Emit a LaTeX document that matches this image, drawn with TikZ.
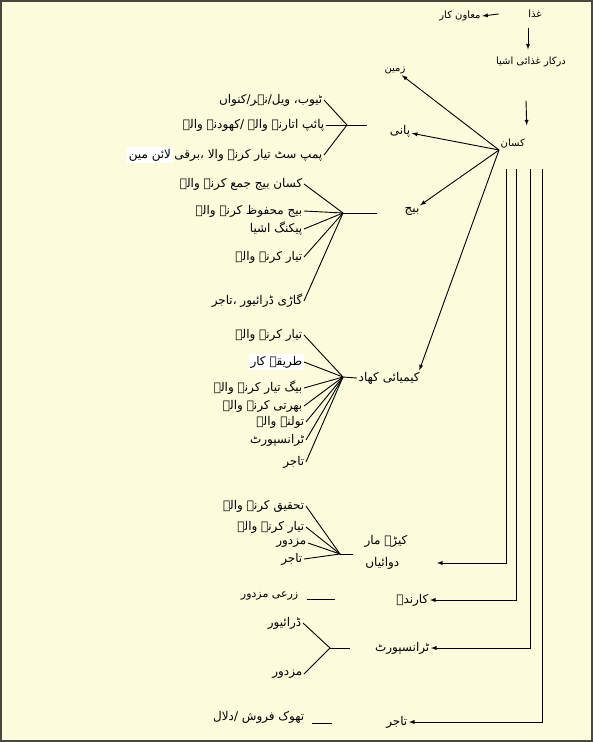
\documentclass[tikz,border=0pt]{standalone}
\usepackage{fontspec}
\usetikzlibrary{positioning,arrows}
\newfontfamily\urdufont[Script=Arabic]{DejaVu Sans}
\TeXXeTstate=1
\newcommand{\urd}[1]{\urdufont\beginR #1\endR}
\definecolor{paper}{RGB}{252,252,220}
\definecolor{framegray}{RGB}{72,72,62}

\begin{document}
\begin{tikzpicture}[x=1pt,y=-1pt]
      \tikzstyle{lbl}=[inner sep=1.5pt, font=\fontsize{12}{14}\selectfont];
      \tikzstyle{toplbl}=[inner sep=1.5pt, font=\fontsize{10}{12}\selectfont];
      \tikzstyle{lft}=[lbl, anchor=east];
      \tikzstyle{ln}=[line width=0.9pt];
      \tikzstyle{arr}=[ln, -latex];

      \useasboundingbox (0,0) rectangle (593,742);
      \draw[line width=2pt, draw=framegray, fill=paper] (1,1) rectangle (592,741);

      % top of the chart
      \node (ghiza) at (535,14)[toplbl]{\urd{غذا}};
      \node (muawin) at (460,16)[toplbl]{\urd{معاون کار}};
      \node (darkar) at (531,62)[toplbl]{\urd{درکار غذائی اشیا}};
      \node (kisan) at (499,150)[toplbl, anchor=south west]{\urd{کسان}};
      \coordinate (hub) at (kisan.south west);

      \draw [arr] ([xshift=-28pt]ghiza.west) -- (muawin.east);
      \draw [arr] ([xshift=-7pt,yshift=-8pt]ghiza.south) -- ([xshift=-3pt,yshift=6pt]darkar.north);
      \draw [arr] ([xshift=-5pt,yshift=-32pt]darkar.south) -- ([xshift=14pt,yshift=12pt]kisan.north);

      % what the farmer needs
      \node (zameen) at (395,70)[toplbl]{\urd{زمین}};
      \node (pani) at (400,131)[lbl]{\urd{پانی}};
      \node (bij) at (412,211)[lbl]{\urd{بیج}};
      \node (khad) at (357,378)[lbl, anchor=west]{\urd{کیمیائی کھاد}};
      \node (keera) at (386,541)[lbl]{\urd{کیڑے مار}};
      \node (dawa) at (401,563)[lft]{\urd{دوائیاں}};
      \node (karinde) at (430,600)[lft]{\urd{کارندے}};
      \node (transport) at (431,648)[lft]{\urd{ٹرانسپورٹ}};
      \node (tajir) at (409,722)[lft]{\urd{تاجر}};

      \draw [arr] (hub) -- (zameen);
      \draw [arr] (hub) -- (pani);
      \draw [arr] (hub) -- (bij);
      \draw [arr] (hub) -- ([xshift=-2pt]khad.north east);

      \coordinate (d1) at (506,169);
      \coordinate (d2) at (516,169);
      \coordinate (d3) at (530,169);
      \coordinate (d4) at (542,169);
      \draw [arr] (d1) |- ([xshift=36pt]dawa.east);
      \draw [arr] (d2) |- (karinde.east);
      \draw [arr] (d3) |- (transport.east);
      \draw [arr] (d4) |- (tajir.east);

      % pani
      \node (p1) at (324,100)[lft]{\urd{ٹیوب، ویل/نہر/کنواں}};
      \node (p2) at (326,125)[lft]{\urd{پائپ اتارنے والے /کھودنے والے}};
      \node (p3) at (324,155)[lft]{\urd{پمپ سٹ تیار کرنے والا ،برقی}};
      \node (p3b) [left=0pt of p3, lbl, fill=white]{\urd{لائن مین}};
      \coordinate (panihub) at (347,125);
      \coordinate (paniend) at (367,125);
      \draw [ln] (p1.east) -- (panihub) -- (p3.east);
      \draw [ln] (p2.east) -- (paniend);

      % bij
      \node (b1) at (304,184)[lft]{\urd{کسان بیج جمع کرنے والے}};
      \node (b2) at (304,211)[lft]{\urd{بیج محفوظ کرنے والے}};
      \node (b3) at (304,229)[lft]{\urd{پیکنگ اشیا}};
      \node (b4) at (304,257)[lft]{\urd{تیار کرنے والے}};
      \node (b5) at (304,301)[lft]{\urd{گاڑی ڈرائیور ،تاجر}};
      \coordinate (bijhub) at (343,213);
      \coordinate (bijend) at (377,213);
      \foreach \i in {1,...,5}
        \draw [ln] (bijhub) -- (b\i.east);
      \draw [ln] (bijhub) -- (bijend);

      % khad
      \node (k1) at (304,335)[lft]{\urd{تیار کرنے والے}};
      \node (k2) at (304,362)[lft, fill=white]{\urd{طریقۂ کار}};
      \node (k3) at (304,388)[lft]{\urd{بیگ تیار کرنے والے}};
      \node (k4) at (304,406)[lft]{\urd{بھرتی کرنے والے}};
      \node (k5) at (306,422)[lft]{\urd{تولنے والے}};
      \node (k6) at (306,440)[lft]{\urd{ٹرانسپورٹ}};
      \node (k7) at (306,462)[lft]{\urd{تاجر}};
      \coordinate (khadhub) at (343,377);
      \foreach \i in {1,...,7}
        \draw [ln] (khadhub) -- (k\i.east);
      \draw [ln] (khadhub) -- (khad.west);

      % keera mar dawaiyan
      \node (r1) at (306,506)[lft]{\urd{تحقیق کرنے والے}};
      \node (r2) at (306,527)[lft]{\urd{تیار کرنے والے}};
      \node (r3) at (308,543)[lft]{\urd{مزدور}};
      \node (r4) at (304,559)[lft]{\urd{تاجر}};
      \coordinate (keerahub) at (340,554);
      \coordinate (keeraend) at (353,554);
      \foreach \i in {1,...,4}
        \draw [ln] (keerahub) -- (r\i.east);
      \draw [ln] (keerahub) -- (keeraend);

      % karinde
      \node (zarai) at (300,596)[lft, font=\fontsize{11}{13}\selectfont]{\urd{زرعی مزدور}};
      \coordinate (zl1) at (307,599);
      \coordinate (zl2) at (335,599);
      \draw [ln] (zl1) -- (zl2);

      % transport
      \node (t1) at (303,623)[lft]{\urd{ڈرائیور}};
      \node (t2) at (304,674)[lft]{\urd{مزدور}};
      \coordinate (trhub) at (330,648);
      \coordinate (trend) at (350,648);
      \draw [ln] (t1.east) -- (trhub) -- (t2.east);
      \draw [ln] (trhub) -- (trend);

      % tajir
      \node (thok) at (306,717)[lft]{\urd{تھوک فروش /دلال}};
      \coordinate (tl1) at (312,723);
      \coordinate (tl2) at (332,723);
      \draw [ln] (tl1) -- (tl2);

\end{tikzpicture}
\end{document}
